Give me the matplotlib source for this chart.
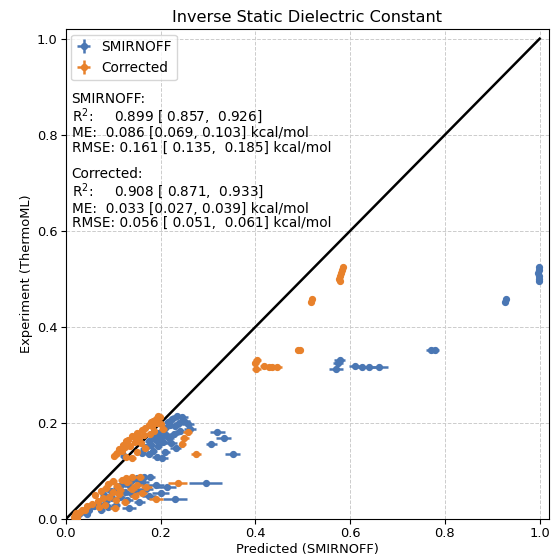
import matplotlib
matplotlib.use("Agg")
import matplotlib.pyplot as plt
import numpy as np

# experimental inverse static dielectric constant (ThermoML)
expt = [
    0.525, 0.519, 0.512, 0.506, 0.500, 0.495, 0.458, 0.451,
    0.353, 0.353, 0.331, 0.326, 0.318, 0.317, 0.316, 0.317, 0.312,
    0.182, 0.169, 0.157, 0.136,
    0.215, 0.212, 0.208, 0.205, 0.203, 0.200, 0.198, 0.196, 0.193, 0.190,
    0.188, 0.185, 0.183, 0.180, 0.178, 0.175, 0.172, 0.170, 0.168, 0.165,
    0.162, 0.160, 0.158, 0.155, 0.152, 0.150, 0.148, 0.145, 0.142, 0.140,
    0.138, 0.135, 0.132, 0.130, 0.127,
    0.088, 0.087, 0.085, 0.082, 0.080, 0.078, 0.075, 0.073, 0.071, 0.068,
    0.066, 0.064, 0.062, 0.060, 0.058, 0.056, 0.054, 0.052, 0.050, 0.048,
    0.046, 0.044, 0.042, 0.040, 0.038, 0.035, 0.032, 0.030, 0.028, 0.025,
    0.023, 0.020, 0.018, 0.015, 0.012, 0.010, 0.008, 0.005, 0.003,
]

# predictions from the SMIRNOFF force field
smirnoff = [
    0.998, 0.999, 0.997, 0.998, 0.999, 0.998, 0.928, 0.927,
    0.770, 0.780, 0.578, 0.574, 0.610, 0.625, 0.640, 0.660, 0.570,
    0.320, 0.333, 0.307, 0.352,
    0.235, 0.245, 0.225, 0.250, 0.215, 0.238, 0.258, 0.220, 0.230, 0.210,
    0.262, 0.205, 0.240, 0.195, 0.228, 0.212, 0.185, 0.200, 0.218, 0.190,
    0.175, 0.205, 0.222, 0.180, 0.195, 0.170, 0.232, 0.165, 0.185, 0.210,
    0.160, 0.175, 0.122, 0.192, 0.204,
    0.177, 0.165, 0.150, 0.140, 0.128, 0.160, 0.295, 0.118, 0.190, 0.135,
    0.213, 0.110, 0.170, 0.148, 0.095, 0.125, 0.200, 0.140, 0.080, 0.175,
    0.115, 0.098, 0.230, 0.130, 0.085, 0.155, 0.070, 0.105, 0.060, 0.090,
    0.133, 0.050, 0.075, 0.040, 0.030, 0.045, 0.025, 0.020, 0.022,
]
smirnoff_err = [
    0.002, 0.002, 0.002, 0.002, 0.002, 0.002, 0.003, 0.003,
    0.010, 0.008, 0.012, 0.010, 0.012, 0.012, 0.015, 0.020, 0.015,
    0.015, 0.015, 0.012, 0.016,
    0.010, 0.012, 0.010, 0.012, 0.008, 0.010, 0.012, 0.008, 0.010, 0.008,
    0.012, 0.008, 0.010, 0.008, 0.010, 0.008, 0.008, 0.010, 0.010, 0.008,
    0.008, 0.010, 0.012, 0.008, 0.008, 0.008, 0.012, 0.008, 0.008, 0.010,
    0.008, 0.008, 0.008, 0.010, 0.012,
    0.012, 0.012, 0.010, 0.010, 0.010, 0.015, 0.035, 0.010, 0.018, 0.012,
    0.020, 0.010, 0.015, 0.012, 0.010, 0.012, 0.018, 0.012, 0.008, 0.015,
    0.010, 0.010, 0.025, 0.012, 0.008, 0.012, 0.008, 0.010, 0.006, 0.008,
    0.015, 0.006, 0.008, 0.005, 0.004, 0.005, 0.004, 0.003, 0.003,
]

# predictions after the correction
corrected = [
    0.585, 0.583, 0.581, 0.579, 0.577, 0.578, 0.519, 0.517,
    0.490, 0.494, 0.404, 0.400, 0.418, 0.428, 0.435, 0.445, 0.402,
    0.257, 0.250, 0.246, 0.275,
    0.195, 0.198, 0.190, 0.185, 0.180, 0.192, 0.200, 0.175, 0.182, 0.168,
    0.205, 0.160, 0.186, 0.150, 0.178, 0.165, 0.140, 0.155, 0.148, 0.132,
    0.128, 0.145, 0.158, 0.120, 0.135, 0.125, 0.168, 0.112, 0.118, 0.150,
    0.108, 0.105, 0.102, 0.128, 0.140,
    0.156, 0.140, 0.128, 0.118, 0.100, 0.130, 0.236, 0.090, 0.150, 0.108,
    0.170, 0.085, 0.140, 0.115, 0.075, 0.100, 0.160, 0.112, 0.062, 0.145,
    0.092, 0.078, 0.190, 0.105, 0.068, 0.125, 0.055, 0.082, 0.045, 0.070,
    0.103, 0.040, 0.035, 0.030, 0.022, 0.025, 0.020, 0.018, 0.024,
]
corrected_err = [
    0.002, 0.002, 0.002, 0.002, 0.002, 0.002, 0.002, 0.002,
    0.006, 0.005, 0.008, 0.007, 0.008, 0.008, 0.010, 0.012, 0.010,
    0.010, 0.010, 0.008, 0.010,
    0.006, 0.008, 0.006, 0.008, 0.006, 0.006, 0.008, 0.006, 0.006, 0.006,
    0.008, 0.006, 0.006, 0.006, 0.006, 0.006, 0.006, 0.006, 0.006, 0.006,
    0.006, 0.006, 0.008, 0.006, 0.006, 0.006, 0.008, 0.006, 0.006, 0.006,
    0.006, 0.006, 0.006, 0.006, 0.008,
    0.010, 0.008, 0.008, 0.008, 0.008, 0.010, 0.020, 0.008, 0.012, 0.008,
    0.012, 0.008, 0.010, 0.008, 0.006, 0.008, 0.012, 0.008, 0.006, 0.010,
    0.008, 0.006, 0.015, 0.008, 0.006, 0.008, 0.006, 0.006, 0.005, 0.006,
    0.010, 0.005, 0.005, 0.004, 0.003, 0.004, 0.003, 0.003, 0.003,
]
expt_err = 0.002

smirnoff_stats = ("SMIRNOFF:\n"
                  "R$^2$:     0.899 [ 0.857,  0.926]\n"
                  "ME:  0.086 [0.069, 0.103] kcal/mol\n"
                  "RMSE: 0.161 [ 0.135,  0.185] kcal/mol")
corrected_stats = ("Corrected:\n"
                   "R$^2$:     0.908 [ 0.871,  0.933]\n"
                   "ME:  0.033 [0.027, 0.039] kcal/mol\n"
                   "RMSE: 0.056 [ 0.051,  0.061] kcal/mol")

fig = plt.figure(figsize=(5.53, 5.6), dpi=100)
ax = fig.add_axes([0.119, 0.073, 0.874, 0.875])

lims = (0.0, 1.02)
ax.plot([0, 1], [0, 1], color="black", linewidth=1.8, zorder=1)

ax.errorbar(smirnoff, expt, xerr=smirnoff_err, yerr=expt_err, fmt="o",
            color="#4a77b4", ecolor="#4a77b4", markersize=4.2,
            elinewidth=1.8, capsize=0, label="SMIRNOFF", zorder=2)
ax.errorbar(corrected, expt, xerr=corrected_err, yerr=expt_err, fmt="o",
            color="#e8812b", ecolor="#e8812b", markersize=4.2,
            elinewidth=1.8, capsize=0, label="Corrected", zorder=3)

ax.set_xlim(*lims)
ax.set_ylim(*lims)
ax.set_xticks(np.arange(0, 1.01, 0.2))
ax.set_yticks(np.arange(0, 1.01, 0.2))
ax.grid(True, linestyle="--", color="#cccccc", linewidth=0.7)
ax.set_axisbelow(True)

ax.set_title("Inverse Static Dielectric Constant", fontsize=11.6, pad=5)
ax.set_xlabel("Predicted (SMIRNOFF)", fontsize=9.4, labelpad=2)
ax.set_ylabel("Experiment (ThermoML)", fontsize=9.4, labelpad=3)
ax.tick_params(labelsize=9.4, pad=2.5)

ax.legend(loc="upper left", fontsize=9.8, handlelength=1.0,
          borderaxespad=0.4)
ax.text(0.012, 0.872, smirnoff_stats, transform=ax.transAxes,
        fontsize=9.8, va="top", ha="left", linespacing=1.02)
ax.text(0.012, 0.718, corrected_stats, transform=ax.transAxes,
        fontsize=9.8, va="top", ha="left", linespacing=1.02)

fig.savefig("out.png", dpi=100)
